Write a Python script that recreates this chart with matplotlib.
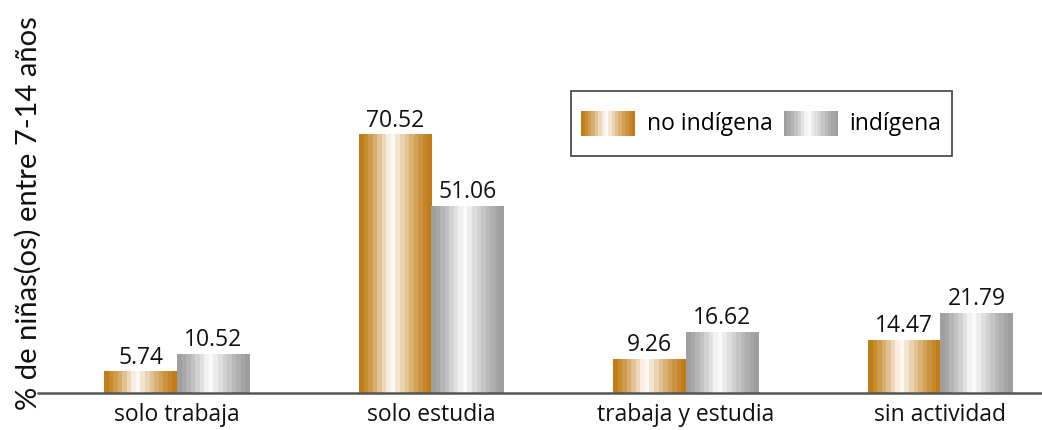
import numpy as np
import matplotlib
matplotlib.use("Agg")
import matplotlib.pyplot as plt
from matplotlib.patches import Rectangle
from matplotlib.legend_handler import HandlerBase
from matplotlib.colors import to_rgb

categories = ["solo trabaja", "solo estudia", "trabaja y estudia", "sin actividad"]
no_indigena = [5.74, 70.52, 9.26, 14.47]
indigena = [10.52, 51.06, 16.62, 21.79]
series_names = ["no indígena", "indígena"]
ylabel = "% de niñas(os) entre 7-14 años"

GOLD = "#BF7A12"
GRAY = "#9C9C9C"
FONT = ["Open Sans", "DejaVu Sans"]
FS = 16.5


def gradient_colors(base, n=16):
    xs = (np.arange(n) + 0.5) / n
    peak = 0.45
    t = np.where(xs < peak, xs / peak, (1 - xs) / (1 - peak))
    t = np.clip(t, 0, 1) ** 1.3
    b = np.array(to_rgb(base))
    return np.array([b + (1 - b) * v for v in t])


def draw_gradient_bar(ax, rect, base):
    x, y = rect.get_x(), rect.get_y()
    w, h = rect.get_width(), rect.get_height()
    cols = gradient_colors(base)
    img = cols[np.newaxis, :, :]
    ax.imshow(img, extent=(x, x + w, y, y + h), aspect="auto",
              interpolation="nearest", zorder=2)


class GradHandler(HandlerBase):
    def __init__(self, base):
        super().__init__()
        self.base = base

    def create_artists(self, legend, orig_handle, xdescent, ydescent,
                       width, height, fontsize, trans):
        cols = gradient_colors(self.base)
        n = len(cols)
        ph = 1.13 * fontsize
        y0 = -ydescent + height / 2 - ph / 2
        arts = []
        for i, c in enumerate(cols):
            r = Rectangle((-xdescent + i * width / n, y0),
                          width / n * 1.02, ph,
                          facecolor=c, edgecolor="none", transform=trans)
            arts.append(r)
        return arts


fig = plt.figure(figsize=(10.42, 4.30), dpi=100)
ax = fig.add_axes([38 / 1042, (430 - 393) / 430, 1004 / 1042, 366 / 430])

x = np.arange(len(categories))
bw = 0.285
b1 = ax.bar(x - bw / 2, no_indigena, bw, color="none", edgecolor="none")
b2 = ax.bar(x + bw / 2, indigena, bw, color="none", edgecolor="none")
for r in b1:
    draw_gradient_bar(ax, r, GOLD)
for r in b2:
    draw_gradient_bar(ax, r, GRAY)

for bars, vals in ((b1, no_indigena), (b2, indigena)):
    for r, v in zip(bars, vals):
        ax.text(r.get_x() + r.get_width() / 2, v + 0.6, f"{v:.2f}",
                ha="center", va="bottom", fontsize=FS, family=FONT, color="#111")

ax.set_xlim(-0.546, 3.4)
ax.set_ylim(0, 100)
for s in ["top", "right", "left"]:
    ax.spines[s].set_visible(False)
ax.spines["bottom"].set_color("#555555")
ax.spines["bottom"].set_linewidth(1.8)
ax.set_yticks([])
ax.set_xticks(x)
ax.set_xticklabels(categories, fontsize=FS, family=FONT, color="#111")
ax.tick_params(axis="x", length=0, pad=7)

fig.text(0.027, 0.505, ylabel, rotation=90, ha="center", va="center",
         fontsize=21, family=["Lato", "DejaVu Sans"], color="#111")

h1 = Rectangle((0, 0), 1, 1)
h2 = Rectangle((0, 0), 1, 1)
leg = ax.legend([h1, h2], series_names,
                handler_map={h1: GradHandler(GOLD), h2: GradHandler(GRAY)},
                loc="upper left", bbox_to_anchor=(533 / 1004, (393 - 91) / 366),
                ncol=2, frameon=True, fancybox=False, prop={"family": FONT, "size": FS},
                handlelength=2.36, handleheight=2.6, handletextpad=0.5,
                columnspacing=0.5, borderpad=0.45, borderaxespad=0)
leg.get_frame().set_edgecolor("#222222")
leg.get_frame().set_linewidth(1.3)

fig.savefig("out.png", dpi=100)
